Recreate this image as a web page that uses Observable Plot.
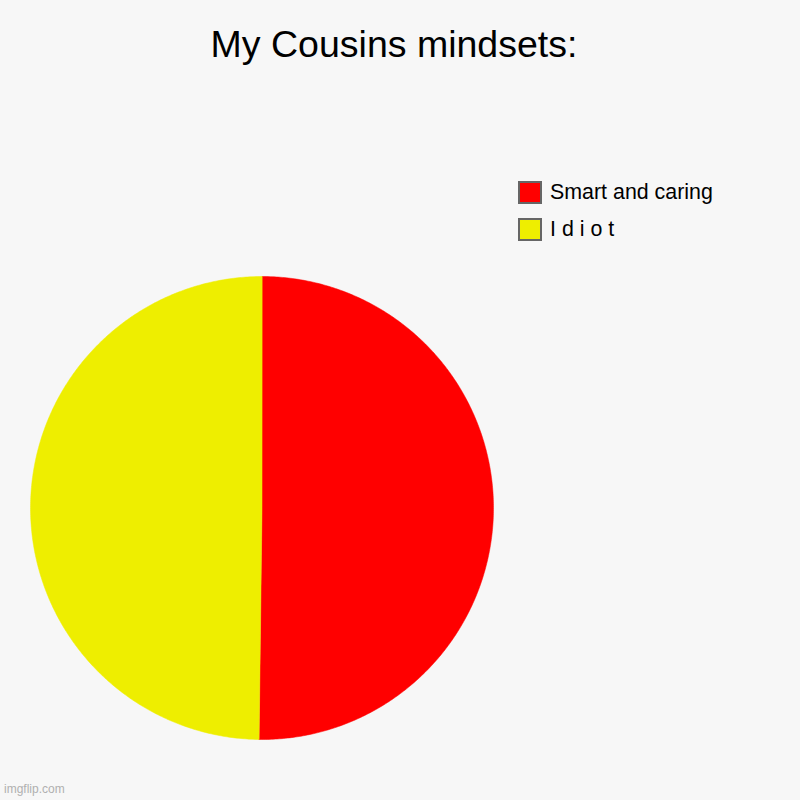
<!DOCTYPE html>
<html>
<head>
<meta charset="utf-8">
<script src="https://cdn.jsdelivr.net/npm/d3@7"></script>
<script src="https://cdn.jsdelivr.net/npm/@observablehq/plot@0.6"></script>
<style>
  html, body { margin: 0; padding: 0; background: #f7f7f7; }
  #wrap { position: relative; width: 800px; height: 800px; background: #f7f7f7; font-family: "Liberation Sans", Arial, sans-serif; overflow: hidden; }
  #title { position: absolute; left: 0; width: 788px; top: 23px; text-align: center; font-size: 37.5px; color: #000; white-space: nowrap; }
  #legend { position: absolute; left: 518px; top: 181px; }
  .item { display: flex; align-items: center; height: 23px; margin-bottom: 14px; }
  .sw { width: 20px; height: 19px; border: 2px solid #666; box-sizing: content-box; margin-right: 8px; }
  .lab { font-size: 21.4px; color: #000; white-space: nowrap; }
  #wm { position: absolute; left: 4px; top: 782px; font-size: 12px; color: #b0b0b0; }
  #chart { position: absolute; left: 0; top: 0; }
</style>
</head>
<body>
<div id="wrap">
  <div id="chart"></div>
  <div id="title"></div>
  <div id="legend"></div>
  <div id="wm">imgflip.com</div>
</div>
<script>
const titleText = "My Cousins mindsets:";
const categories = ["Smart and caring", "I d i o t"];
const values = [50.2, 49.8];
const colors = ["#ff0000", "#eeee00"];

document.getElementById("title").textContent = titleText;

const legend = document.getElementById("legend");
categories.forEach((c, i) => {
  const it = document.createElement("div");
  it.className = "item";
  const sw = document.createElement("div");
  sw.className = "sw";
  sw.style.background = colors[i];
  const lab = document.createElement("div");
  lab.className = "lab";
  lab.textContent = c;
  it.appendChild(sw); it.appendChild(lab);
  legend.appendChild(it);
});

// Build slice outlines on a unit circle from the values
const arcs = d3.pie().sort(null).value(d => d)(values);
const pts = [];
arcs.forEach((a, i) => {
  const steps = Math.max(2, Math.ceil((a.endAngle - a.startAngle) / (Math.PI / 360)));
  pts.push({cat: categories[i], x: 0, y: 0});
  for (let k = 0; k <= steps; k++) {
    const t = a.startAngle + (a.endAngle - a.startAngle) * k / steps;
    pts.push({cat: categories[i], x: Math.sin(t), y: Math.cos(t)});
  }
});

const plot = Plot.plot({
  width: 800,
  height: 800,
  margin: 0,
  style: {background: "transparent", overflow: "visible"},
  x: {domain: [-1, 1], range: [30, 493], axis: null},
  y: {domain: [-1, 1], range: [739, 276], axis: null},
  color: {domain: categories, range: colors},
  marks: [
    Plot.line(pts, {x: "x", y: "y", z: "cat", fill: "cat", stroke: "cat", strokeWidth: 0.5, curve: "linear-closed"})
  ]
});
document.getElementById("chart").appendChild(plot);
</script>
</body>
</html>
